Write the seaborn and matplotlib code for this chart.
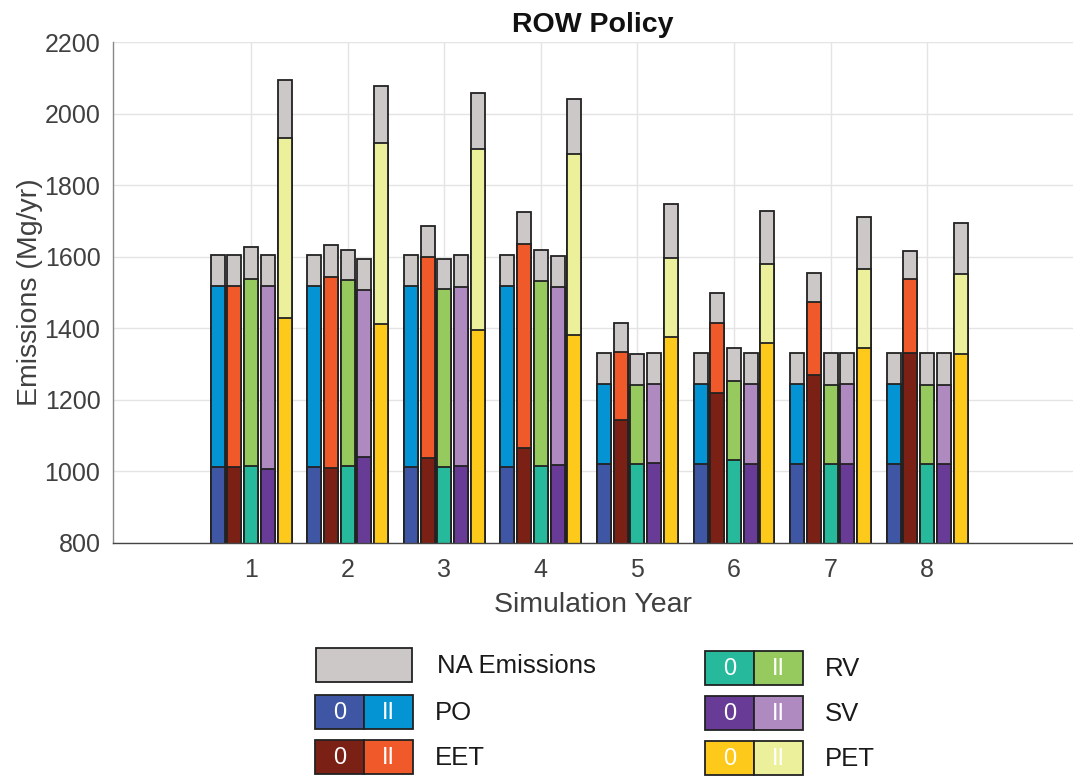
import matplotlib
matplotlib.use("Agg")
import matplotlib.pyplot as plt
import pandas as pd
import seaborn as sns
from matplotlib.patches import Rectangle

# ---- data (Mg/yr) -------------------------------------------------------
years = [1, 2, 3, 4, 5, 6, 7, 8]
policies = ["PO", "EET", "RV", "SV", "PET"]

# phase 0 emissions, additional phase II emissions, NA emissions
po_phase0 = [1013, 1013, 1013, 1013, 1022, 1022, 1021, 1021]
po_phase2 = [505, 505, 505, 505, 221, 221, 222, 222]
po_na = [88, 88, 88, 88, 88, 88, 87, 87]

eet_phase0 = [1013, 1010, 1038, 1065, 1145, 1219, 1269, 1331]
eet_phase2 = [505, 533, 562, 571, 190, 196, 205, 206]
eet_na = [88, 89, 87, 89, 79, 85, 81, 79]

rv_phase0 = [1016, 1016, 1011, 1016, 1020, 1032, 1021, 1021]
rv_phase2 = [521, 519, 499, 516, 221, 221, 221, 221]
rv_na = [91, 85, 84, 88, 86, 91, 88, 88]

sv_phase0 = [1007, 1039, 1015, 1018, 1023, 1022, 1021, 1021]
sv_phase2 = [511, 469, 500, 497, 221, 221, 222, 221]
sv_na = [88, 87, 89, 88, 87, 87, 87, 88]

pet_phase0 = [1428, 1412, 1396, 1381, 1377, 1360, 1345, 1329]
pet_phase2 = [504, 506, 505, 505, 219, 221, 220, 222]
pet_na = [161, 158, 157, 154, 151, 148, 147, 144]

# ---- colours -------------------------------------------------------------
dark = {"PO": "#3E56A4", "EET": "#7B2015", "RV": "#27B99B", "SV": "#683C96", "PET": "#FDC91A"}
light = {"PO": "#0494D3", "EET": "#F0592A", "RV": "#96CA5E", "SV": "#AF8AC0", "PET": "#EDF09A"}
na_color = "#CCC8C8"
edge = "#222222"
text_gray = "#404040"

# ---- tidy frame with cumulative stack heights ---------------------------
series = {
    "PO": (po_phase0, po_phase2, po_na),
    "EET": (eet_phase0, eet_phase2, eet_na),
    "RV": (rv_phase0, rv_phase2, rv_na),
    "SV": (sv_phase0, sv_phase2, sv_na),
    "PET": (pet_phase0, pet_phase2, pet_na),
}
rows = []
for pol in policies:
    p0, p2, na = series[pol]
    for yr, a, b, c in zip(years, p0, p2, na):
        rows.append({"year": str(yr), "policy": pol,
                     "phase0": a, "phase2": a + b, "total": a + b + c})
df = pd.DataFrame(rows)

# ---- figure ----------------------------------------------------------------
sns.set_theme(style="whitegrid")
plt.rcParams["font.family"] = ["Liberation Sans", "DejaVu Sans"]

W, H = 1073, 777
fig = plt.figure(figsize=(W / 100, H / 100), dpi=100)
ax = fig.add_axes([113 / W, 1 - 543 / H, 960 / W, 501 / H])

# stacked look: draw totals first, then overlay the lower cumulative levels
layers = [
    ("total", {p: na_color for p in policies}),
    ("phase2", light),
    ("phase0", dark),
]
for col, pal in layers:
    sns.barplot(data=df, x="year", y=col, hue="policy", hue_order=policies,
                order=[str(y) for y in years], palette=pal, saturation=1,
                width=0.865, gap=0.16, errorbar=None, edgecolor=edge,
                linewidth=1.3, legend=False, ax=ax)

ax.set_ylim(800, 2200)
ax.set_yticks(range(800, 2201, 200))
ax.set_xlim(-1.43, 8.51)
ax.xaxis.grid(True)
ax.yaxis.grid(True)
ax.grid(color="#E4E4E4", linewidth=1.0)
ax.set_axisbelow(True)

for s in ("top", "right"):
    ax.spines[s].set_visible(False)
ax.spines["left"].set_color("#888888")
ax.spines["bottom"].set_color("#444444")
ax.spines["left"].set_linewidth(1.0)
ax.spines["bottom"].set_linewidth(1.0)

ax.tick_params(axis="both", labelsize=18, colors=text_gray, direction="in",
               length=5, width=0.8)
ax.tick_params(axis="x", pad=11)
ax.tick_params(axis="y", pad=9)

ax.set_xlabel("Simulation Year", fontsize=20.5, color=text_gray, labelpad=7)
ax.set_ylabel("Emissions (Mg/yr)", fontsize=20.5, color=text_gray, labelpad=1)
ax.set_title("ROW Policy", fontsize=20.5, fontweight="bold", color="#111111", pad=7)

# ---- legend panel (pixel coordinates) ------------------------------------
lax = fig.add_axes([0, 0, 1, 1], facecolor="none")
lax.set_xlim(0, W)
lax.set_ylim(H, 0)
lax.axis("off")

lw = 1.3
lax.add_patch(Rectangle((316, 648), 96, 34, facecolor=na_color, edgecolor=edge, linewidth=lw))
lax.text(437, 666, "NA Emissions", fontsize=18.5, color="#1a1a1a", va="center", ha="left")

entries = [
    ("PO", 315, 695), ("EET", 315, 740),
    ("RV", 705, 651), ("SV", 705, 696), ("PET", 705, 741),
]
for pol, x0, y0 in entries:
    bw, bh = 98, 34
    half = bw / 2
    lax.add_patch(Rectangle((x0, y0), half, bh, facecolor=dark[pol], edgecolor=edge, linewidth=lw))
    lax.add_patch(Rectangle((x0 + half, y0), half, bh, facecolor=light[pol], edgecolor=edge, linewidth=lw))
    lax.text(x0 + half / 2, y0 + bh / 2 + 1, "0", fontsize=17, color="white", ha="center", va="center")
    lax.text(x0 + 1.5 * half, y0 + bh / 2 + 1, "II", fontsize=17, color="white", ha="center", va="center")
    lax.text(x0 + bw + 22, y0 + bh / 2 + 1, pol, fontsize=18.5, color="#1a1a1a", ha="left", va="center")

fig.savefig("out.png", dpi=100)
